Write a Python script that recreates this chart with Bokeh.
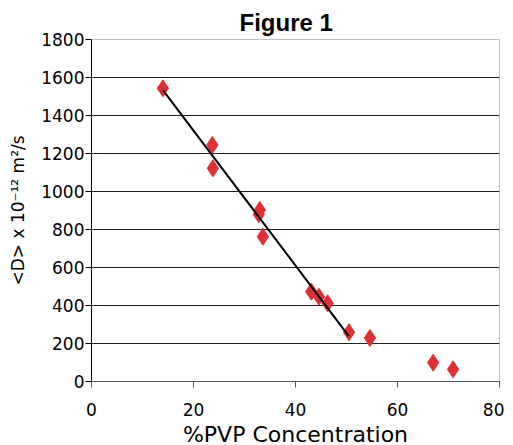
from bokeh.plotting import figure
from bokeh.models import ColumnDataSource, FixedTicker, Range1d
from bokeh.embed import file_html
from bokeh.resources import INLINE

# Data
pvp_conc = [14.0, 23.7, 23.8, 33.0, 32.8, 33.6, 43.1, 44.6, 46.3, 50.5, 54.6, 67.0, 70.9]
diffusion = [1543, 1245, 1122, 903, 880, 762, 473, 446, 412, 259, 229, 99, 64]

# Linear trendline endpoints (as drawn in the reference)
trend_x = [14.0, 50.45]
trend_y = [1534, 239]

x_ticks = [0, 20, 40, 60, 80]
y_ticks = [0, 200, 400, 600, 800, 1000, 1200, 1400, 1600, 1800]

p = figure(
    output_backend="svg", toolbar_location=None,
    frame_width=408, frame_height=342,
    min_border_left=91, min_border_right=5, min_border_top=39, min_border_bottom=56,
    x_range=Range1d(0, 80), y_range=Range1d(0, 1800),
    title="Figure 1",
)
p.background_fill_color = "white"
p.border_fill_color = "white"
p.outline_line_color = "#c0c0c0"
p.outline_line_width = 1

p.title.text_font = "Liberation Sans"
p.title.text_font_style = "bold"
p.title.text_font_size = "24px"
p.title.text_color = "black"
p.title.align = "left"
p.title.offset = 148
p.title.standoff = 8

p.xgrid.grid_line_color = None
p.ygrid.grid_line_color = "#222222"
p.ygrid.grid_line_width = 1

p.xaxis.ticker = FixedTicker(ticks=x_ticks)
p.yaxis.ticker = FixedTicker(ticks=y_ticks)
for ax in (p.xaxis, p.yaxis):
    ax.minor_tick_line_color = None
    ax.major_tick_in = 0
    ax.major_tick_out = 6
    ax.major_label_text_font = "DejaVu Sans"
    ax.major_label_text_font_size = "17px"
    ax.major_label_text_color = "black"
    ax.axis_label_text_font = "DejaVu Sans"
    ax.axis_label_text_font_style = "normal"
    ax.axis_label_text_color = "black"

p.xaxis.axis_line_color = "#555555"
p.xaxis.major_tick_line_color = "#555555"
p.yaxis.axis_line_color = "black"
p.yaxis.major_tick_line_color = "black"
p.xaxis.major_label_standoff = 15
p.yaxis.major_label_standoff = 1

p.xaxis.axis_label = "%PVP Concentration"
p.xaxis.axis_label_text_font_size = "22px"
p.xaxis.axis_label_standoff = 3
p.yaxis.axis_label = "<D> x 10\u207b\u00b9\u00b2 m\u00b2/s"
p.yaxis.axis_label_text_font_size = "17px"
p.yaxis.axis_label_standoff = 10

src = ColumnDataSource(data=dict(x=pvp_conc, y=diffusion))
p.scatter("x", "y", source=src, marker="diamond", size=17,
          fill_color="#df3036", line_color="#df3036")
p.line(trend_x, trend_y, line_color="black", line_width=2)

open("out.html", "w").write(file_html(p, INLINE))
